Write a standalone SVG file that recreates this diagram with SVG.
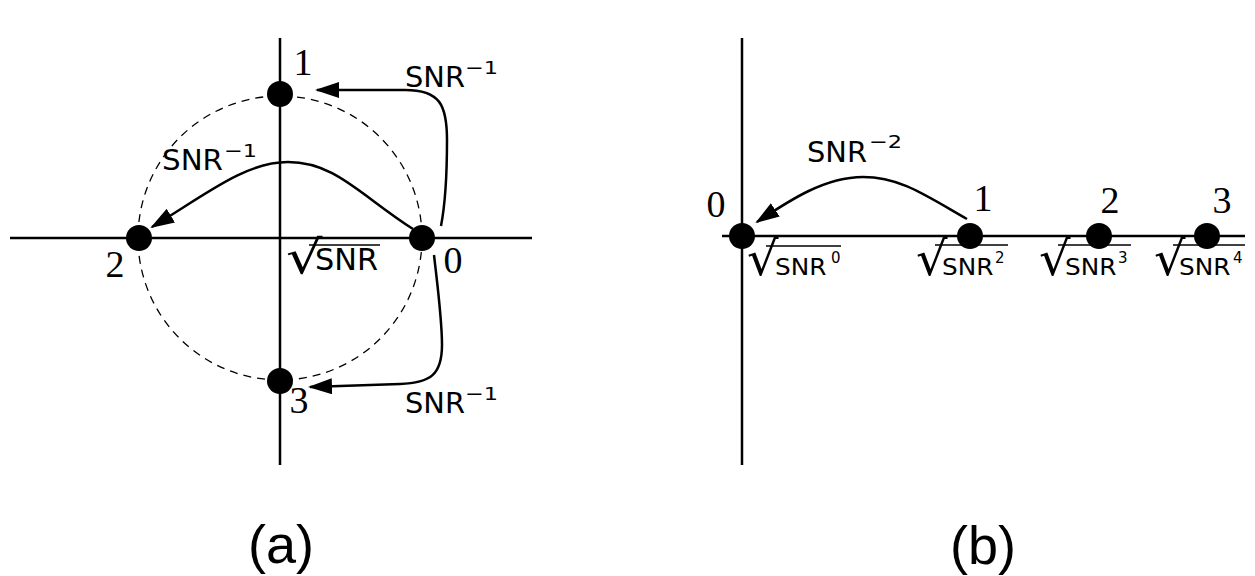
<svg xmlns="http://www.w3.org/2000/svg" width="1255" height="576" viewBox="0 0 1255 576">
<defs>
<style>
.ax{stroke:#000;stroke-width:2.5;fill:none}
.cn{stroke:#000;stroke-width:2.5;fill:none;marker-end:url(#ah)}
.nd{fill:#000}
.dig{font-family:"Liberation Serif",serif;font-size:38px;text-anchor:middle;fill:#000}
.snr{font-family:"DejaVu Sans",sans-serif;font-size:29px;fill:#000}
.sup{font-family:"DejaVu Sans",sans-serif;font-size:18px;fill:#000}
.sq{font-family:"DejaVu Sans",sans-serif;font-size:22.5px;fill:#000}
.sup2{font-family:"DejaVu Sans",sans-serif;font-size:15px;fill:#000}
.radA{font-size:44px}
.radB{font-size:45px}
.ov{stroke:#000;stroke-width:1.5}
.cap{font-family:"Liberation Sans",Arial,sans-serif;font-size:54px;text-anchor:middle;fill:#000}
</style>
<marker id="ah" viewBox="0 0 24 16" markerWidth="24" markerHeight="16" refX="22" refY="8" orient="auto" markerUnits="userSpaceOnUse">
<path d="M0,0 L24,8 L0,16 z" fill="#000"/>
</marker>
</defs>

<g id="panel-a-axes">
<line class="ax" x1="280" y1="38" x2="280" y2="465"/>
<line class="ax" x1="10" y1="238" x2="532" y2="238"/>
<circle cx="280" cy="238" r="142" fill="none" stroke="#000" stroke-width="1.3" stroke-dasharray="8 6"/>
</g>

<g id="connectors">
<path class="cn" d="M 441 226 C 446 200, 447 170, 447 140 C 447 105, 440 90, 405 90 L 317 90"/>
<path class="cn" d="M 434 255 C 438 290, 442 320, 442 345 C 442 375, 430 383, 400 384 L 310 387"/>
<path class="cn" d="M 413 229 C 360 195, 335 162, 288 162 C 245 162, 205 195, 152 227"/>
<path class="cn" d="M 967 219 C 925 195, 900 177, 863 177 C 825 177, 790 200, 757 222"/>
</g>

<g id="a-node0"><circle class="nd" cx="422" cy="238" r="13"/><text class="dig" x="453" y="273">0</text></g>
<g id="a-node1"><circle class="nd" cx="280" cy="94" r="13"/><text class="dig" x="303" y="75">1</text></g>
<g id="a-node2"><circle class="nd" cx="139" cy="238" r="13"/><text class="dig" x="115" y="277">2</text></g>
<g id="a-node3"><circle class="nd" cx="280" cy="381" r="13"/><text class="dig" x="299" y="413">3</text></g>

<g id="a-labels">
<text class="snr" x="405" y="87" textLength="60" lengthAdjust="spacingAndGlyphs">SNR</text>
<text class="sup" x="465" y="74" textLength="33" lengthAdjust="spacingAndGlyphs">−1</text>
<text class="snr" x="162" y="170" textLength="61" lengthAdjust="spacingAndGlyphs">SNR</text>
<text class="sup" x="224" y="157" textLength="33" lengthAdjust="spacingAndGlyphs">−1</text>
<text class="snr" x="405" y="413" textLength="60" lengthAdjust="spacingAndGlyphs">SNR</text>
<text class="sup" x="465" y="400" textLength="33" lengthAdjust="spacingAndGlyphs">−1</text>
<line class="ov" x1="309" y1="245" x2="380" y2="245"/>
<text class="snr" transform="translate(286 273) scale(1.3 1.05)"><tspan class="radA" x="0" y="0">√</tspan><tspan x="22.3" y="-2.9" textLength="48.5" lengthAdjust="spacingAndGlyphs">SNR</tspan></text>
</g>

<g id="panel-b-axes">
<line class="ax" x1="742" y1="38" x2="742" y2="465"/>
<line class="ax" x1="722" y1="236" x2="1245" y2="236"/>
</g>

<g id="b-node0"><circle class="nd" cx="742" cy="236" r="13"/><text class="dig" x="716" y="217">0</text></g>
<g id="b-node1"><circle class="nd" cx="970" cy="236" r="13"/><text class="dig" x="983" y="211">1</text></g>
<g id="b-node2"><circle class="nd" cx="1099" cy="236" r="13"/><text class="dig" x="1110" y="213">2</text></g>
<g id="b-node3"><circle class="nd" cx="1207" cy="236" r="13"/><text class="dig" x="1222" y="213">3</text></g>

<g id="b-labels">
<text class="snr" x="807" y="162" textLength="60" lengthAdjust="spacingAndGlyphs">SNR</text>
<text class="sup" x="869" y="148" textLength="33" lengthAdjust="spacingAndGlyphs">−2</text>

<line class="ov" x1="766" y1="246" x2="841" y2="246"/>
<text class="sq" transform="translate(747 275) scale(1.1 1.05)"><tspan class="radB" x="0" y="0">√</tspan><tspan x="25.5" y="0">SNR</tspan></text>
<text class="sup2" x="831" y="263">0</text>

<line class="ov" x1="935" y1="245" x2="1008" y2="245"/>
<text class="sq" transform="translate(916 275) scale(1.1 1.05)"><tspan class="radB" x="0" y="0">√</tspan><tspan x="23.6" y="0">SNR</tspan></text>
<text class="sup2" x="995" y="263">2</text>

<line class="ov" x1="1058" y1="245" x2="1131" y2="245"/>
<text class="sq" transform="translate(1039 275) scale(1.1 1.05)"><tspan class="radB" x="0" y="0">√</tspan><tspan x="23.6" y="0">SNR</tspan></text>
<text class="sup2" x="1118" y="263">3</text>

<line class="ov" x1="1173" y1="245" x2="1245" y2="245"/>
<text class="sq" transform="translate(1154 275) scale(1.1 1.05)"><tspan class="radB" x="0" y="0">√</tspan><tspan x="22.7" y="0">SNR</tspan></text>
<text class="sup2" x="1233" y="263">4</text>
</g>

<g id="captions">
<text class="cap" x="281" y="563">(a)</text>
<text class="cap" x="983" y="564">(b)</text>
</g>
</svg>
